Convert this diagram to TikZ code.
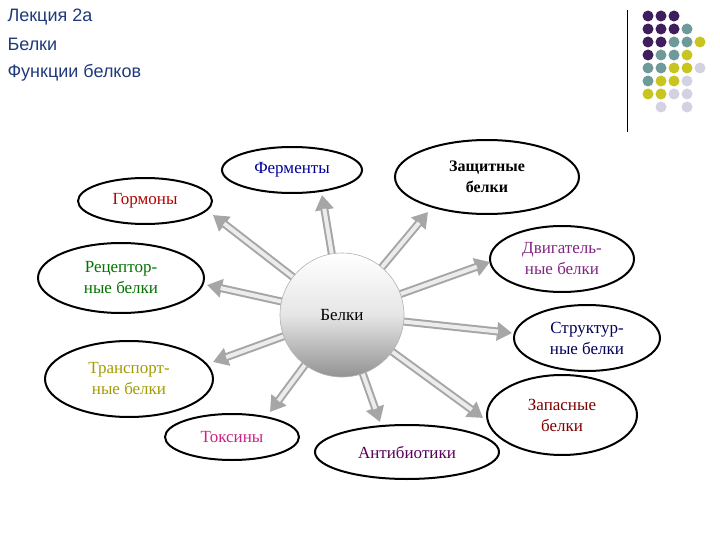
\documentclass[tikz,border=0pt]{standalone}
\usepackage{fontspec}
\setmainfont{Liberation Serif}
\newfontfamily\hdr{Liberation Sans}
\usetikzlibrary{arrows.meta,shapes.geometric}
\definecolor{dP}{HTML}{3F1E5E}
\definecolor{dT}{HTML}{6F9A9A}
\definecolor{dY}{HTML}{C8C420}
\definecolor{dL}{HTML}{D2D2E2}
\definecolor{hd}{HTML}{1F3A7A}
\tikzset{
 el/.style={ellipse,draw=black,line width=2pt,fill=white,inner sep=0pt,align=center,font=\fontsize{17}{21}\selectfont},
 arr/.style={draw=gray!70,line width=8pt,-{Triangle[length=15pt,width=18pt]}},
 arrin/.style={draw=gray!15,line width=4pt,shorten >=14pt},
}
\begin{document}
\begin{tikzpicture}[x=1pt,y=-1pt]
\useasboundingbox (0,0) rectangle (720,540);
\node[anchor=west,font=\hdr\fontsize{18}{18}\selectfont,text=hd] (t1) at (4,17) {Лекция 2а};
\node[anchor=west,font=\hdr\fontsize{18}{18}\selectfont,text=hd] (t2) at (4,44) {Белки};
\node[anchor=west,font=\hdr\fontsize{18}{18}\selectfont,text=hd] (t3) at (4,73) {Функции белков};
\draw[line width=1pt] (627,10) -- (627,132);
\foreach \r/\row in {0/{P,P,P},1/{P,P,P,T},2/{P,P,T,T,Y},3/{P,T,T,Y},4/{T,T,Y,Y,L},5/{T,Y,Y,L},6/{Y,Y,L,L}}{
 \foreach \c [count=\i from 0] in \row {
  \fill[d\c] ({648+13*\i},{16+13*\r}) circle (5.5);
 }
}
\fill[dL] (661,107) circle (5.5);
\fill[dL] (687,107) circle (5.5);

\node[el,minimum width=140pt,minimum height=46pt,text=blue!60!black] (f) at (292,170) {Ферменты};
\node[el,minimum width=184pt,minimum height=74pt,text=black,font=\bfseries\fontsize{16}{21}\selectfont] (z) at (487,177) {Защитные\\белки};
\node[el,minimum width=134pt,minimum height=46pt,text=red!70!black] (g) at (145,201) {Гормоны};
\node[el,minimum width=144pt,minimum height=66pt,text=violet!70!gray] (d) at (562,259) {Двигатель-\\ные белки};
\node[el,minimum width=166pt,minimum height=70pt,text=green!45!black] (r) at (121,278) {Рецептор-\\ные белки};
\node[el,minimum width=146pt,minimum height=66pt,text=blue!35!black] (s) at (587,338) {Структур-\\ные белки};
\node[el,minimum width=168pt,minimum height=76pt,text=olive!80!yellow] (tr) at (129,379) {Транспорт-\\ные белки};
\node[el,minimum width=150pt,minimum height=80pt,text=red!50!black] (zp) at (562,415) {Запасные\\белки};
\node[el,minimum width=134pt,minimum height=46pt,text=magenta!70!violet] (tx) at (232,437) {Токсины};
\node[el,minimum width=184pt,minimum height=54pt,text=violet!70!black] (ab) at (407,452) {Антибиотики};

\coordinate (eg) at (213,215);
\coordinate (ef) at (322,195);
\coordinate (ez) at (428,212);
\coordinate (ed) at (490,262);
\coordinate (er) at (207,285);
\coordinate (es) at (512,333);
\coordinate (etr) at (213,362);
\coordinate (ezp) at (483,418);
\coordinate (etx) at (270,412);
\coordinate (eab) at (380,422);
\coordinate (cc) at (342,315);
\foreach \e in {eg,ef,ez,ed,er,es,etr,ezp,etx,eab}{
 \draw[arr] (cc) -- (\e);
 \draw[arrin] (cc) -- (\e);
}
\shade[top color=white,bottom color=gray!85,middle color=gray!20,draw=gray!60,line width=0.6pt] (342,315) circle (62);
\node[circle,minimum size=124pt,font=\fontsize{17}{17}\selectfont] (c) at (342,315) {Белки};
\end{tikzpicture}
\end{document}
